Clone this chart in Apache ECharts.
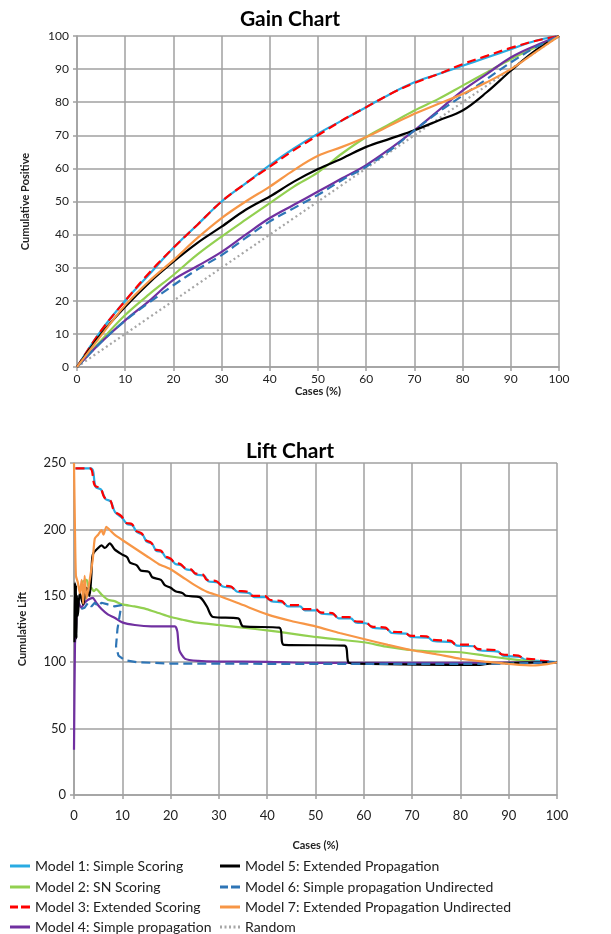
<!DOCTYPE html>
<html>
<head>
<meta charset="utf-8">
<script src="https://cdn.jsdelivr.net/npm/echarts@6/dist/echarts.min.js"></script>
<style>
html,body{margin:0;padding:0;background:#fff;}
#chart{width:611px;height:934px;}
</style>
</head>
<body>
<div id="chart"></div>
<script>
// ---------- DATA ----------
const seriesNames = [
  'Model 1: Simple Scoring',
  'Model 2: SN Scoring',
  'Model 3: Extended Scoring',
  'Model 4: Simple propagation',
  'Model 5: Extended Propagation',
  'Model 6: Simple propagation Undirected',
  'Model 7: Extended Propagation Undirected',
  'Random'
];
const xTickLabels = ['0','10','20','30','40','50','60','70','80','90','100'];

// Gain chart (cases %, cumulative positive %)
const gainX   = [0,5,10,15,20,25,30,35,40,45,50,55,60,65,70,75,80,85,90,95,100];
const gainM1  = [0,11,20,28,36,43,50,55.5,61,66,70.5,74.5,78.5,82.5,86,88.5,91,93.5,96,98.5,100];
const gainM2  = [0,8,15.7,22,27.8,34,39.4,44.5,49.5,54.5,58.8,64.5,69.5,73.5,77.5,81,85,89,93,96.5,100];
const gainM3  = [0,11,20,28.5,36,43,50,55.5,60.5,65.5,70,74.5,78.5,82.5,85.8,88.5,91.5,94,96.4,98.5,100];
const gainM4  = [0,7.5,14.1,20,26.3,30.5,34.8,40,45,49,53,57,61,66,71.5,77.5,83.5,88.5,93.5,97,100];
const gainM5  = [0,10,18.2,25.5,31.8,37.5,42.4,47.5,51.5,56,59.8,63,66.5,69,71.5,74.5,77.5,83,89.5,95.5,100];
const gainM6  = [0,7.5,14,19.5,24.7,29.5,33.8,39,44,48,52,56.5,60.5,65.5,71.5,77,82,87,92,96.5,100];
const gainM7  = [0,9.5,18.7,26,32.3,39,45,50,54.5,59.5,63.8,66.5,69.5,73,76.5,79.5,82.5,86,90,95,100];
const gainRnd = [0,5,10,15,20,25,30,35,40,45,50,55,60,65,70,75,80,85,90,95,100];

// Lift chart: [cases %, cumulative lift]
const liftM3 = [[0.3,246],[3.3,246],[4.3,233],[5.5,231],[6.3,224],[7.5,222],[8.3,214],[9.8,210],[10.8,205],[12,204],[12.8,199],[14,197],[14.8,192],[16,190],[16.8,185],[18,184],[18.8,180],[20,178],[20.8,175],[22,174],[23,171],[24.2,170],[25,167],[26.7,166],[27.5,162],[29.5,161],[30.5,158],[32.5,157],[33.5,154],[36,153],[37,150],[39.5,150],[40.5,147],[43,146],[44,143],[46.5,143],[47.5,140],[50,140],[51,137.5],[53.5,137],[54.5,134],[57,134],[58,131],[60.5,130],[61.5,127],[64.5,126],[65.5,123],[68.5,122.5],[69.5,120],[73,119.5],[74,117],[78,116],[79,113.5],[82.5,113],[83.5,110],[87.5,109],[88.5,106],[92,105],[93,103],[96,102],[97,101],[100,100]];
const liftM1 = [[0.3,246],[3.5,246],[4.5,232],[5.6,230],[6.5,223],[7.6,221],[8.5,213],[9.9,209],[11,204],[12.1,203],[13,198],[14.2,196],[15,191],[16.2,189],[17,184],[18.2,183],[19,179],[20.2,177],[21,174],[22.2,173],[23.2,170],[24.5,169],[25.3,166],[27,165],[27.8,161],[29.8,160],[30.8,157],[32.8,156],[33.8,153],[36.3,152],[37.3,149],[39.8,149],[40.8,146],[43.3,145],[44.3,142],[46.8,142],[47.8,139],[50.3,139],[51.3,136.5],[53.8,136],[54.8,133],[57.3,133],[58.3,130],[60.8,129],[61.8,126],[64.8,125],[65.8,122],[68.8,121.5],[69.8,119],[73.3,118.5],[74.3,116],[78.3,115],[79.3,112.5],[82.8,112],[83.8,109],[87.8,108],[88.8,105],[92.3,104],[93.3,102],[96.3,101],[100,100]];
const liftM2 = [[1.5,160],[2.6,162],[3,157],[3.6,156],[4.1,153.5],[4.6,155],[5.7,151],[7,147],[8.4,146],[10,143.5],[12.5,142],[15,140],[17.5,137],[20,134],[22.5,132],[25,130],[30,128],[35,126],[40,124],[45,121.5],[50,119],[55,117],[60,115],[65,111.5],[70,109],[75,108],[80,107.5],[85,105],[90,102.5],[95,100.5],[100,100]];
const liftM4 = [[0,34],[0.2,113],[0.4,125],[0.8,146],[1.5,141],[2.2,144.8],[2.9,147],[3.9,148.5],[4.6,144.8],[5.7,140],[7,136],[8.4,133.5],[10,130],[12.6,128],[16,127],[20.9,127],[21.4,123],[21.8,109],[23,102.5],[25.7,101],[30,100.5],[40,100.3],[50,99.5],[60,99.5],[80,99.5],[100,100]];
const liftM5 = [[0.1,115],[0.2,160],[0.3,125],[0.4,158],[0.5,118],[0.6,150],[0.8,135],[1.2,152],[1.9,143.5],[2.6,156],[3.2,150],[3.6,166],[3.9,181],[5,186],[5.7,188],[6.4,186],[7.4,189.5],[8.4,185],[10,181],[11,179],[11.6,175],[13,173],[13.8,169],[15.5,168],[16.2,164],[18,162],[18.8,158],[20,156],[21,153.5],[22.5,152],[23.2,150],[26,149],[27.5,142],[28.8,134],[34,133],[35,127],[42.5,126],[43.5,113],[56,112.5],[56.8,100],[58,99],[84,98],[86,99],[100,100]];
const liftM6 = [[1.5,140],[2.2,141],[2.9,144.8],[3.6,142],[4.3,144.8],[5,142],[5.7,144.8],[7,143.5],[8.4,142],[9.8,143],[9.0,125],[8.7,112],[9.2,105],[10.5,101.5],[13,100],[20,99],[40,98.8],[60,98.8],[84,98.7],[90,99],[100,100]];
const liftM7 = [[0,250],[0.2,200],[0.4,165],[0.8,160],[1.2,152],[1.6,162],[1.9,144],[2.2,165],[2.6,148],[3.3,163],[3.9,178],[4.3,193],[5,196],[5.7,199.5],[6.1,196],[6.7,202],[7.4,199.5],[8.4,196],[10,192],[12.5,186],[15,180],[17.5,174],[20,170],[22.5,164],[25,158],[27.5,153],[30,150],[35,143],[40,136],[45,131],[50,127],[55,122],[60,117.5],[65,113],[70,109],[75,106],[80,102.6],[85,100.5],[90,98.8],[95,97.5],[98,98.5],[100,100]];

// ---------- STYLE ----------
const colors = ['#29abe2','#92d050','#ff0000','#7030a0','#000000','#2e75b6','#f79646','#a6a6a6'];
const lineTypes = ['solid','solid',[9,5],'solid','solid',[9,5],'solid',[2,3]];
const liftSmooth = [0.35,0.2,0.35,0.2,0.3,0,0.2];
const FONT = 'Lato, "Open Sans", sans-serif';

const gainData = [gainM1,gainM2,gainM3,gainM4,gainM5,gainM6,gainM7,gainRnd];
const liftData = [liftM1,liftM2,liftM3,liftM4,liftM5,liftM6,liftM7];

const series = [];
gainData.forEach((arr, i) => {
  series.push({
    name: seriesNames[i], type: 'line', xAxisIndex: 0, yAxisIndex: 0,
    data: gainX.map((x, j) => [x, arr[j]]),
    smooth: 0.35, showSymbol: false, symbol: 'none',
    lineStyle: { color: colors[i], width: 2.2, type: lineTypes[i] },
    itemStyle: { color: colors[i] },
    z: i === 7 ? 1 : 2 + i
  });
});
liftData.forEach((arr, i) => {
  series.push({
    name: seriesNames[i], type: 'line', xAxisIndex: 1, yAxisIndex: 1,
    data: arr, smooth: liftSmooth[i], showSymbol: false, symbol: 'none',
    lineStyle: { color: colors[i], width: 2.2, type: lineTypes[i] },
    itemStyle: { color: colors[i] },
    z: 2 + i
  });
});

const axisLineStyle = { color: '#a0a0a0', width: 1.5 };
function xAx(gi, gap, fs, margin) {
  return {
    type: 'value', gridIndex: gi, min: 0, max: 100, interval: 10,
    name: 'Cases (%)', nameLocation: 'middle', nameGap: gap,
    nameTextStyle: { fontFamily: FONT, fontSize: 11, fontWeight: 'bold', color: '#222' },
    axisLine: { show: true, lineStyle: axisLineStyle },
    axisTick: { show: true, length: 4, lineStyle: axisLineStyle },
    splitLine: { show: true, lineStyle: axisLineStyle },
    axisLabel: { fontFamily: FONT, fontSize: fs, color: '#222', margin: margin,
      formatter: (v) => xTickLabels[Math.round(v / 10)] }
  };
}
function yAx(gi, max, interval, name, gap, fs) {
  return {
    type: 'value', gridIndex: gi, min: 0, max: max, interval: interval,
    name: name, nameLocation: 'middle', nameGap: gap,
    nameTextStyle: { fontFamily: FONT, fontSize: 11, fontWeight: 'bold', color: '#222' },
    axisLine: { show: true, lineStyle: axisLineStyle },
    axisTick: { show: true, length: 4, lineStyle: axisLineStyle },
    splitLine: { show: true, lineStyle: axisLineStyle },
    axisLabel: { fontFamily: FONT, fontSize: fs, color: '#222', margin: 8 }
  };
}

// legend icons (drawn as small filled shapes in the series colour)
const ICON_SOLID  = 'path://M0,0h20v3h-20z';
const ICON_DASHED = 'path://M0,0h8v3h-8z M11,0h9v3h-9z';
const ICON_DOTTED = 'path://M0,0h2v3h-2z M4.5,0h2v3h-2z M9,0h2v3h-2z M13.5,0h2v3h-2z M18,0h2v3h-2z';
const legendIcons = [ICON_SOLID, ICON_SOLID, ICON_DASHED, ICON_SOLID, ICON_SOLID, ICON_DASHED, ICON_SOLID, ICON_DOTTED];
const legendRowTops = [859, 880, 900, 920];
const legends = seriesNames.map((nm, i) => ({
  orient: 'horizontal', left: i < 4 ? 10 : 220, top: legendRowTops[i % 4],
  padding: 0, itemWidth: 20, itemHeight: 3,
  textStyle: { fontFamily: FONT, fontSize: 14, color: '#222' },
  data: [{ name: nm, icon: legendIcons[i] }]
}));

const option = {
  animation: false,
  backgroundColor: '#fff',
  graphic: [
    { type: 'text', x: 290, y: 19, style: { text: 'Gain Chart', font: 'bold 21px ' + FONT, fill: '#000', textAlign: 'center', textVerticalAlign: 'middle' } },
    { type: 'text', x: 290, y: 451, style: { text: 'Lift Chart', font: 'bold 21px ' + FONT, fill: '#000', textAlign: 'center', textVerticalAlign: 'middle' } }
  ],
  grid: [
    { left: 77, top: 36, width: 482, height: 331 },
    { left: 74, top: 463, width: 483, height: 332 }
  ],
  xAxis: [ xAx(0, 18, 12, 6), xAx(1, 45, 13, 14) ],
  yAxis: [ yAx(0, 100, 10, 'Cumulative Positive', 46, 12), yAx(1, 250, 50, 'Cumulative Lift', 46, 13) ],
  legend: legends,
  series: series
};

const chart = echarts.init(document.getElementById('chart'), null, { renderer: 'canvas' });
chart.setOption(option);
</script>
</body>
</html>
